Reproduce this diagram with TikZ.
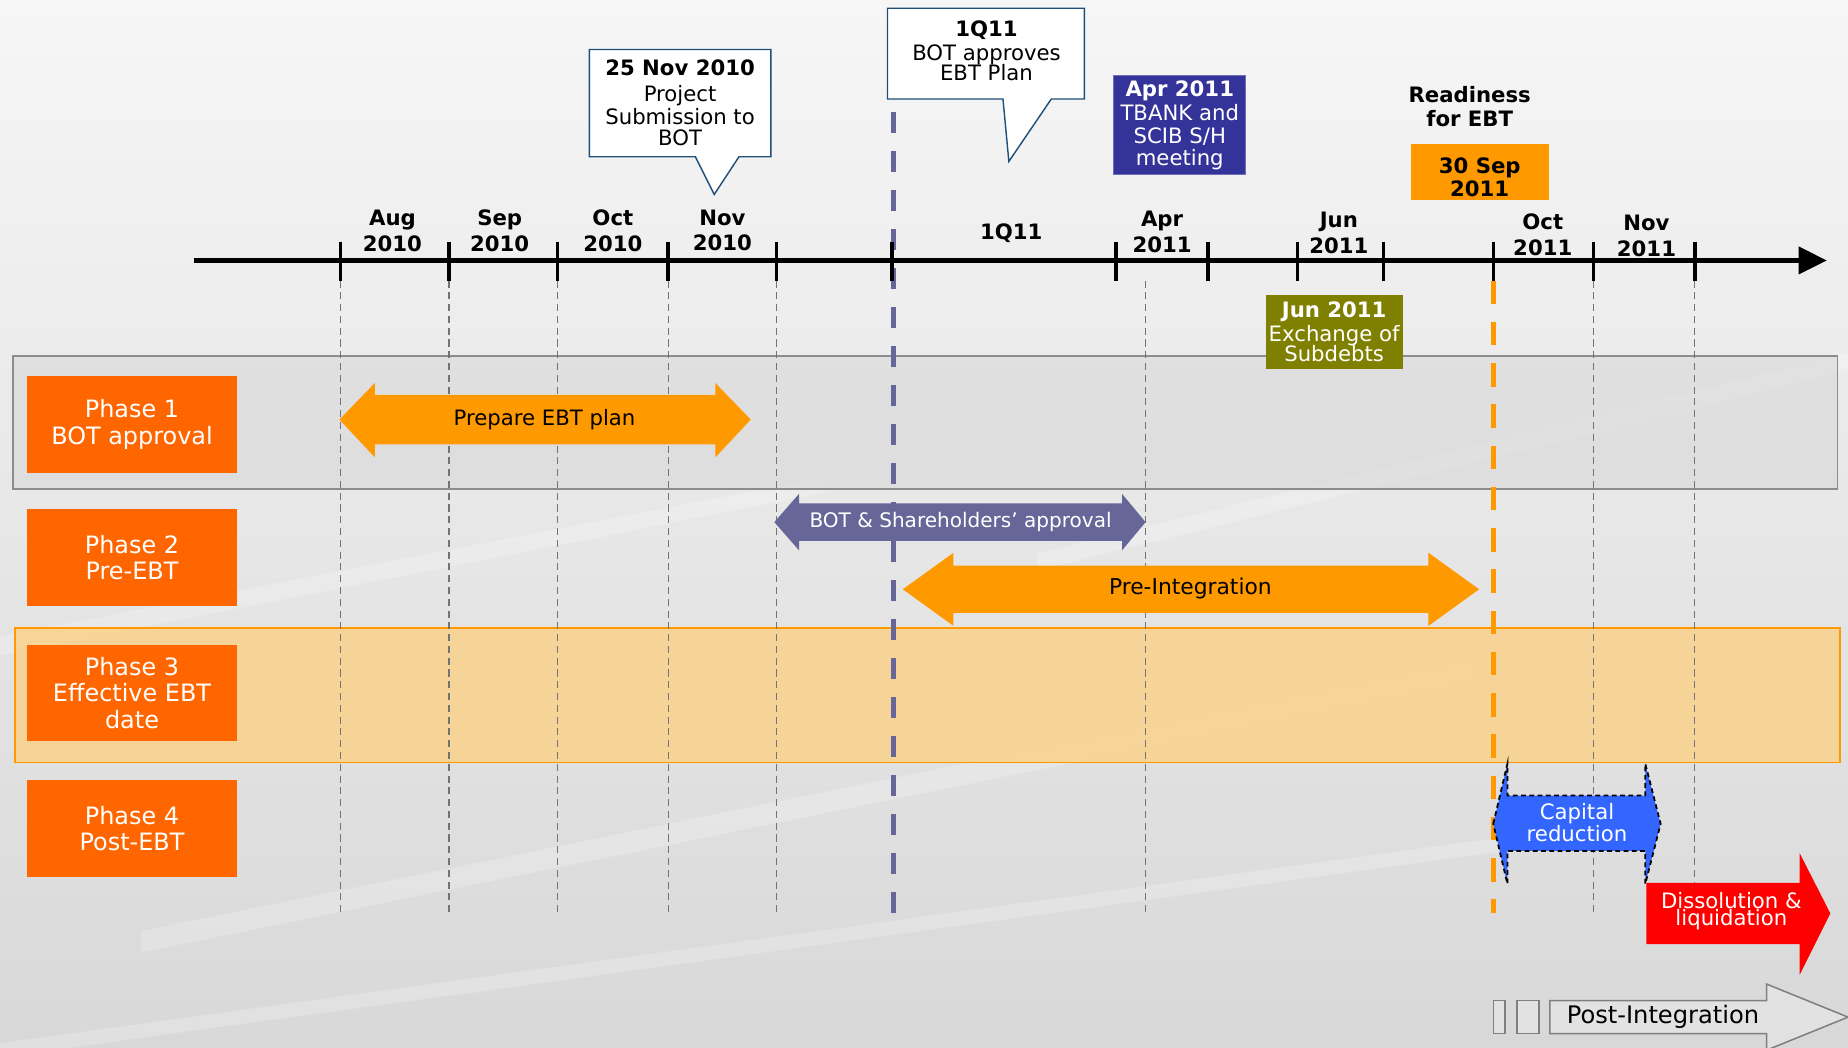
\documentclass[tikz,border=0pt]{standalone}
\usepackage{fontspec}
\setmainfont{DejaVu Sans}
\usetikzlibrary{arrows.meta}
\definecolor{phaseor}{HTML}{FF6600}
\definecolor{arrowor}{HTML}{FF9900}
\definecolor{slate}{HTML}{666699}
\definecolor{navybox}{HTML}{333399}
\definecolor{olivebox}{HTML}{808000}
\definecolor{capblue}{HTML}{3366FF}
\definecolor{callblue}{HTML}{1F4E79}
\definecolor{bandgray}{HTML}{D8D8D8}
\definecolor{bandor}{HTML}{FAD28C}
\definecolor{bgtop}{HTML}{F6F6F6}
\definecolor{bgmid}{HTML}{E7E7E7}
\definecolor{bgbot}{HTML}{D8D8D8}
\begin{document}
\begin{tikzpicture}[x=1pt,y=-1pt,
  lbl/.style={inner sep=0pt, align=center},
  month/.style={lbl, font=\bfseries\fontsize{18}{22}\selectfont},
  tickmark/.style={line width=3pt},
  guide/.style={draw=black!55, line width=1.1pt, dash pattern=on 6pt off 4pt},
  phasebox/.style={fill=phaseor, text=white, minimum width=178pt, minimum height=82pt,
     inner sep=0pt, align=center, font=\fontsize{20.3}{22.5}\selectfont},
  callout/.style={fill=white, draw=callblue, line width=1.2pt, line join=miter},
  streak/.style={fill=white, opacity=0.22},
]
\useasboundingbox (0,0) rectangle (1568,889);
% background
\shade[top color=bgtop, middle color=bgmid, bottom color=bgbot] (0,0) rectangle (1568,889);
\fill[streak] (0,540) -- (700,405) -- (700,418) -- (0,556) -- cycle;
\fill[streak] (120,790) -- (1250,560) -- (1250,578) -- (120,808) -- cycle;
\fill[streak] (880,470) -- (1568,300) -- (1568,314) -- (880,484) -- cycle;
\fill[streak] (0,885) -- (1350,700) -- (1350,712) -- (0,897) -- cycle;

% phase bands
\draw[fill=bandgray, fill opacity=0.6, draw=black!45, line width=1.5pt] (11,302) rectangle (1559,415);
\draw[fill=bandor, fill opacity=0.85, draw=arrowor, line width=1.5pt] (13,533) rectangle (1561,647);

% vertical guides
\foreach \g in {289,381,473,567,659,972,1352,1438}
  \draw[guide] (\g,238) -- (\g,775);
\draw[slate, line width=4.2pt, dash pattern=on 18pt off 15.1pt] (758,95) -- (758,775);
\draw[arrowor, line width=4.5pt, dash pattern=on 20pt off 15pt] (1267,238) -- (1267,775);

% axis
\coordinate (axL) at (165,221);
\coordinate (axR) at (1550,221);
\draw[line width=3.5pt, -{Triangle[length=24pt,width=23pt]}] (axL) -- (axR);
\foreach \t in {289,381,473,567,659,757,947,1025,1101,1174,1267,1352,1438}
  \draw[tickmark] (\t,205) -- (\t,238);

% month labels
\node[month] (maug) at (333,196) {Aug\\2010};
\node[month] (msep) at (424,195.5) {Sep\\2010};
\node[month] (moct) at (520,196) {Oct\\2010};
\node[month] (mnov) at (613,195.5) {Nov\\2010};
\node[month] (mq) at (858,198) {1Q11};
\node[month] (mapr) at (986,197) {Apr\\2011};
\node[month] (mjun) at (1136,198) {Jun\\2011};
\node[month] (moct11) at (1309,199) {Oct\\2011};
\node[month] (mnov11) at (1397,200) {Nov\\2011};

% callouts
\filldraw[callout] (500,42) -- (654,42) -- (654,133) -- (627,133) -- (606,165) -- (590,133) -- (500,133) -- cycle;
\node[lbl, font=\fontsize{18}{20}\selectfont] (c1) at (577,87)
  {\textbf{25 Nov 2010}\\[2pt]Project\\Submission to\\[-3pt]BOT};
\filldraw[callout] (753,7) -- (920,7) -- (920,84) -- (892,84) -- (856,137) -- (851,84) -- (753,84) -- cycle;
\node[lbl, font=\fontsize{18}{20}\selectfont] (c2) at (837,43)
  {\textbf{1Q11}\\BOT approves\\[-3pt]EBT Plan};

% milestone boxes
\node[lbl, fill=navybox, draw=navybox!70!white, line width=1pt, minimum width=112pt, minimum height=84pt,
  text=white, font=\fontsize{18}{19.5}\selectfont] (apr) at (1001,106)
  {\textbf{Apr 2011}\\[1pt]TBANK and\\SCIB S/H\\[-1pt]meeting};
\node[lbl, font=\bfseries\fontsize{18}{21}\selectfont] (ready) at (1247,90.5) {Readiness\\for EBT};
\node[fill=arrowor, minimum width=117pt, minimum height=48pt, inner sep=0pt] (sep30) at (1255.5,146) {};
\node[lbl, font=\bfseries\fontsize{18}{19}\selectfont] (sep30t) at (1255.5,150.5) {30 Sep\\2011};
\node[lbl, fill=olivebox, minimum width=116pt, minimum height=63pt, text=white,
  font=\fontsize{18}{19.5}\selectfont] (jun) at (1132,281.5)
  {\textbf{Jun 2011}\\[1pt]Exchange of\\[-3pt]Subdebts};

% phase boxes
\node[phasebox] (p1) at (112,360) {Phase 1\\BOT approval};
\node[phasebox] (p2) at (112,473) {Phase 2\\Pre-EBT};
\node[phasebox] (p3) at (112,588) {Phase 3\\Effective EBT\\date};
\node[phasebox] (p4) at (112,703) {Phase 4\\Post-EBT};

% activity arrows
\fill[arrowor] (288,356) -- (318,325) -- (318,335) -- (607,335) -- (607,325) -- (637,356)
  -- (607,388) -- (607,377) -- (318,377) -- (318,388) -- cycle;
\node[lbl, font=\fontsize{18}{20}\selectfont] (prep) at (462,356) {Prepare EBT plan};

\fill[slate] (657,443) -- (678,419) -- (678,427) -- (952,427) -- (952,419) -- (972,443)
  -- (952,467) -- (952,459) -- (678,459) -- (678,467) -- cycle;
\node[lbl, text=white, font=\fontsize{17}{19}\selectfont] (bsh) at (815,443) {BOT \& Shareholders’ approval};

\fill[arrowor] (766,500) -- (809,469) -- (809,480) -- (1212,480) -- (1212,469) -- (1255,500)
  -- (1212,531) -- (1212,520) -- (809,520) -- (809,531) -- cycle;
\node[lbl, font=\fontsize{18.5}{20}\selectfont] (preint) at (1010,499) {Pre-Integration};

\filldraw[fill=capblue, draw=black, line width=1.5pt, dash pattern=on 4pt off 3pt]
  (1267,699) -- (1279,648) -- (1279,675) -- (1396,675) -- (1396,648) -- (1409,699)
  -- (1396,750) -- (1396,722) -- (1279,722) -- (1279,750) -- cycle;
\node[lbl, text=white, font=\fontsize{18}{15}\selectfont] (capred) at (1338,698) {Capital\\reduction};

\fill[red] (1397,749) -- (1527,749) -- (1527,724) -- (1553,775) -- (1527,827) -- (1527,801) -- (1397,801) -- cycle;
\node[lbl, text=white, font=\fontsize{18}{15}\selectfont] (dissol) at (1469,773) {Dissolution \&\\liquidation};

% post-integration
\draw[black!50, line width=1.3pt, fill=white, fill opacity=0.25] (1267,849) rectangle (1277,877);
\draw[black!50, line width=1.3pt, fill=white, fill opacity=0.25] (1287,849) rectangle (1306,877);
\draw[black!50, line width=1.3pt, fill=white, fill opacity=0.25]
  (1315,849) -- (1499,849) -- (1499,835) -- (1568,863) -- (1499,891) -- (1499,877) -- (1315,877) -- cycle;
\node[lbl, font=\fontsize{20.5}{22}\selectfont] (postint) at (1411,863) {Post-Integration};
\end{tikzpicture}
\end{document}
